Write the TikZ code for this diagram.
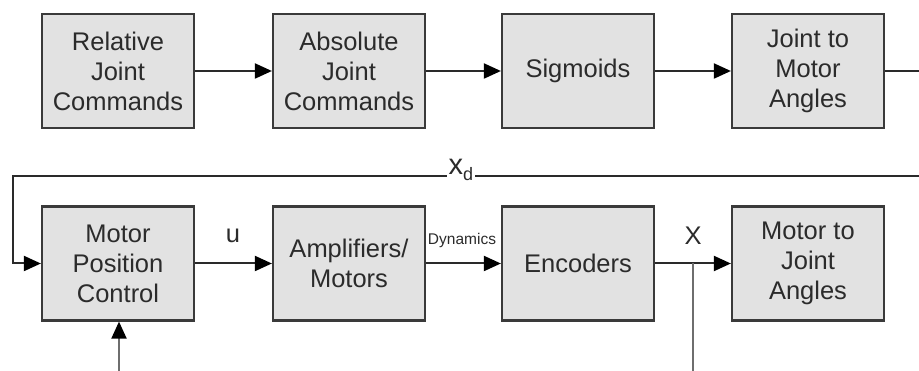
\documentclass[tikz,border=0pt]{standalone}
\usepackage{fontspec}
\setmainfont{Liberation Sans}
\usetikzlibrary{arrows.meta}
\definecolor{boxfill}{HTML}{E2E2E2}
\definecolor{boxline}{HTML}{3A3A3A}
\definecolor{ink}{HTML}{2B2B2B}
\definecolor{wire}{HTML}{2A2A2A}
\definecolor{fbwire}{HTML}{6E6E6E}
\begin{document}
\begin{tikzpicture}[x=1pt,y=-1pt,
  block/.style={draw=boxline, fill=boxfill, line width=2.2pt,
    minimum width=152pt, minimum height=114pt, inner sep=0pt,
    align=center, text=ink, font=\fontsize{25.5}{30}\selectfont},
  tip/.style={-{Triangle[length=17pt,width=15pt,color=black]}},
  wireline/.style={draw=wire, line width=2pt},
  flow/.style={wireline, tip},
  fbline/.style={draw=fbwire, line width=2pt},
  sig/.style={text=ink, inner sep=1pt, font=\fontsize{25.5}{30}\selectfont}]
\useasboundingbox[fill=white] (0,0) rectangle (919,371);

% forward chain: command processing
\node[block] (rjc) at (118,71)  {Relative\\Joint\\Commands};
\node[block] (ajc) at (349,71)  {Absolute\\Joint\\Commands};
\node[block] (sgm) at (578,71)  {Sigmoids};
\node[block] (jma) at (808,71)  {Joint to\\Motor\\Angles};

% servo loop
\node[block] (mpc) at (118,263.5) {Motor\\Position\\Control};
\node[block] (amp) at (349,263.5) {Amplifiers/\\Motors};
\node[block] (enc) at (578,263.5) {Encoders};
\node[block] (mja) at (808,263.5) {Motor to\\Joint\\Angles};

\draw[flow] (rjc) -- (ajc);
\draw[flow] (ajc) -- (sgm);
\draw[flow] (sgm) -- (jma);
\coordinate (topout) at (919,71);
\draw[wireline] (jma) -- (topout);

% desired motor angles fed back to the controller
\coordinate (xdin) at (919,176);
\coordinate (xdturn) at (13,176);
\draw[flow] (xdin) -- (xdturn) |- (mpc.west);
\node[text=ink, fill=white, inner xsep=2pt, inner ysep=0pt,
      font=\fontsize{29}{30}\selectfont] (xdlab) at (461,170)
  {x\raisebox{-0.4ex}{\fontsize{18}{18}\selectfont d}};

\draw[flow] (mpc) -- (amp);
\draw[flow] (amp) -- (enc);
\draw[flow] (enc) -- (mja);
\node[sig] (ulab) at (233,236) {u};
\node[sig] (xlab) at (693,236) {X};
\node[text=ink, inner sep=0pt, font=\fontsize{15.5}{16}\selectfont] (dynlab) at (462,240) {Dynamics};

% measured position back to the controller
\coordinate (tap) at (693,263.5);
\coordinate (tapdown) at (693,371);
\coordinate (fbup) at (119,371);
\draw[fbline] (tap) -- (tapdown);
\draw[fbline, tip] (fbup) -- (fbup |- mpc.south);
\end{tikzpicture}
\end{document}
